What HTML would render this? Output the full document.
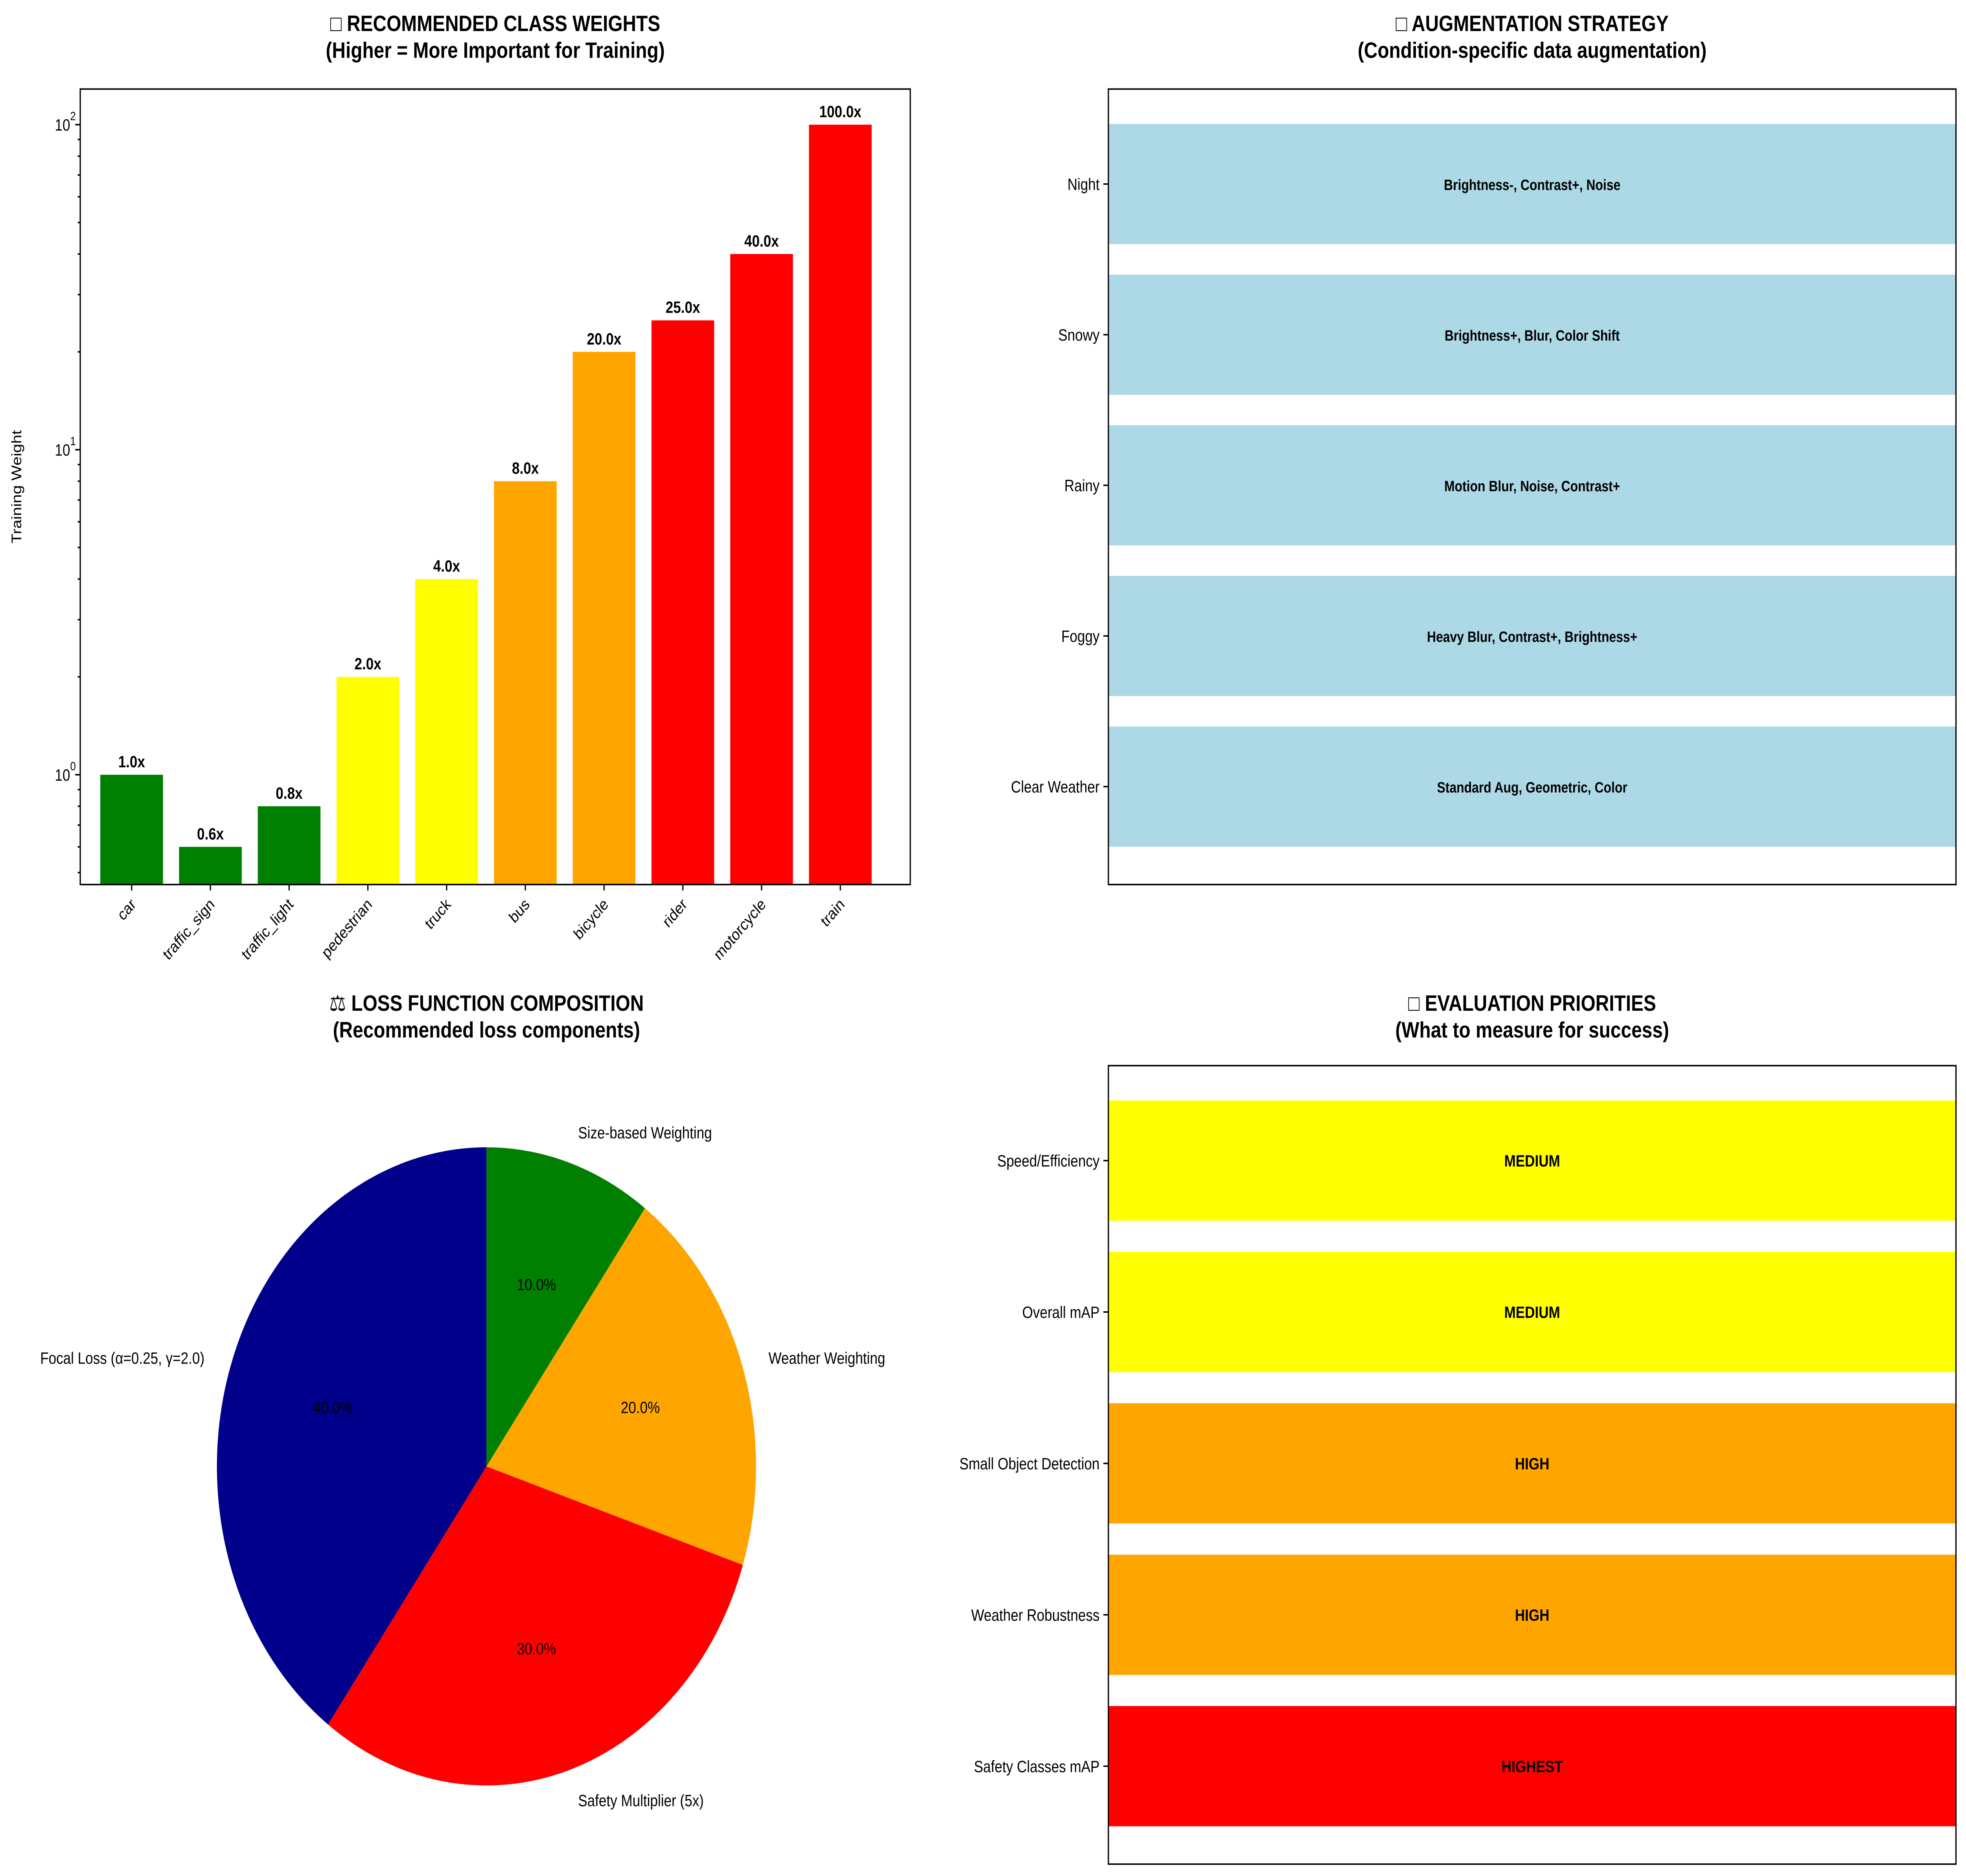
<!DOCTYPE html>
<html><head><meta charset="utf-8"><style>html,body{margin:0;padding:0;background:#fff;overflow:hidden;width:100%;height:100%}svg{display:block;position:fixed;left:0;top:0;width:100vw;height:100vh}text{font-family:"Liberation Sans","DejaVu Sans",sans-serif}</style></head>
<body>
<svg id="s" viewBox="0 0 1568 1264" preserveAspectRatio="none" xmlns="http://www.w3.org/2000/svg"></svg>
<script>
const classes=["car","traffic_sign","traffic_light","pedestrian","truck","bus","bicycle","rider","motorcycle","train"];
const weights=[1.0,0.6,0.8,2.0,4.0,8.0,20.0,25.0,40.0,100.0];
const classColors=["green","green","green","yellow","yellow","orange","orange","red","red","red"];
const augConds=["Clear Weather","Foggy","Rainy","Snowy","Night"];
const augText=["Standard Aug, Geometric, Color","Heavy Blur, Contrast+, Brightness+","Motion Blur, Noise, Contrast+","Brightness+, Blur, Color Shift","Brightness-, Contrast+, Noise"];
const lossLabels=["Focal Loss (α=0.25, γ=2.0)","Safety Multiplier (5x)","Weather Weighting","Size-based Weighting"];
const lossVals=[40,30,20,10];
const lossColors=["darkblue","red","orange","green"];
const evalItems=["Safety Classes mAP","Weather Robustness","Small Object Detection","Overall mAP","Speed/Efficiency"];
const evalLevels=["HIGHEST","HIGH","HIGH","MEDIUM","MEDIUM"];
const levelColors={HIGHEST:"red",HIGH:"orange",MEDIUM:"yellow"};

const S=document.getElementById('s');const NS="http://www.w3.org/2000/svg";
function el(t,a,txt){const e=document.createElementNS(NS,t);for(const k in a)e.setAttribute(k,a[k]);if(txt!==undefined)e.textContent=txt;S.appendChild(e);return e;}
function title(cx,l1,l2,y){
 const t=el('text',{x:cx,y:y,'text-anchor':'middle','font-size':15,'font-weight':'bold'},l1);
 
 const t2=el('text',{x:cx,y:y+18,'text-anchor':'middle','font-size':15,'font-weight':'bold'},l2);
 
}
const L={x0:64,x1:726,y0:60,y1:596};
const yv=v=>522-Math.log10(v)*219;
const xc=i=>105+i*62.8;
title(395,"□ RECOMMENDED CLASS WEIGHTS","(Higher = More Important for Training)",21);
classes.forEach((c,i)=>{
 const r=el('rect',{x:xc(i)-25,y:yv(weights[i]),width:50,height:L.y1-yv(weights[i]),fill:classColors[i]});
 
 const t=el('text',{x:xc(i),y:yv(weights[i])-5,'text-anchor':'middle','font-size':11,'font-weight':'bold'},weights[i].toFixed(1)+'x');
 
 el('line',{x1:xc(i),x2:xc(i),y1:L.y1,y2:L.y1+4,stroke:'#000'});
 const tl=el('text',{x:0,y:0,'text-anchor':'end','font-size':11,transform:`translate(${xc(i)+4},${L.y1+14}) rotate(-45)`},c);
 
});
[0,1,2].forEach(p=>{const y=yv(Math.pow(10,p));el('line',{x1:L.x0-4,x2:L.x0,y1:y,y2:y,stroke:'#000'});
 const t=el('text',{x:L.x0-8,y:y+4,'text-anchor':'end','font-size':11},'10');
 el('text',{x:L.x0-8,y:y-3,'font-size':8},String(p));});
for(let p=-1;p<=2;p++)for(let m=2;m<=9;m++){const v=m*Math.pow(10,p);const y=yv(v);if(y>L.y0&&y<L.y1)el('line',{x1:L.x0-2,x2:L.x0,y1:y,y2:y,stroke:'#000'});}
const yl=el('text',{x:0,y:0,'text-anchor':'middle','font-size':11,transform:'translate(17,328) rotate(-90)'},'Training Weight');

el('rect',{x:L.x0,y:L.y0,width:L.x1-L.x0,height:L.y1-L.y0,fill:'none',stroke:'#000'});

function hpanel(y0,y1,labels,texts,colors,fs,nm){
 const x0=884,x1=1560;const bot=y1-66;const step=(bot-(y0+64))/4;
 labels.forEach((l,i)=>{const c=bot-i*step;
  const r=el('rect',{x:x0,y:c-40.5,width:x1-x0,height:81,fill:colors[i]});
  
  const t=el('text',{x:(x0+x1)/2,y:c+4,'text-anchor':'middle','font-size':fs,'font-weight':'bold'},texts[i]);
  
  el('line',{x1:x0-4,x2:x0,y1:c,y2:c,stroke:'#000'});
  const tl=el('text',{x:x0-7,y:c+4,'text-anchor':'end','font-size':11},l);
  
 });
 el('rect',{x:x0,y:y0,width:x1-x0,height:y1-y0,fill:'none',stroke:'#000'});
}
title(1222,"□ AUGMENTATION STRATEGY","(Condition-specific data augmentation)",21);
hpanel(60,596,augConds,augText,augConds.map(()=> 'lightblue'),10,'augmentation');
title(1222,"□ EVALUATION PRIORITIES","(What to measure for success)",681);
hpanel(718,1256,evalItems,evalLevels,evalLevels.map(l=>levelColors[l]),11,'priority');

title(388,"⚖ LOSS FUNCTION COMPOSITION","(Recommended loss components)",681);
const cx=388,cy=988,R=215;const tot=lossVals.reduce((a,b)=>a+b,0);let a=90;
lossVals.forEach((v,i)=>{const a1=a+v/tot*360;const r0=a*Math.PI/180,r1=a1*Math.PI/180;
 const p=el('path',{d:`M${cx},${cy} L${cx+R*Math.cos(r0)},${cy-R*Math.sin(r0)} A${R},${R} 0 ${(a1-a)>180?1:0} 0 ${cx+R*Math.cos(r1)},${cy-R*Math.sin(r1)} Z`,fill:lossColors[i]});
 
 const m=(a+a1)/2*Math.PI/180;
 const lx=cx+1.1*R*Math.cos(m),ly=cy-1.1*R*Math.sin(m);
 const t=el('text',{x:lx,y:ly+4,'text-anchor':Math.cos(m)<0?'end':'start','font-size':11},lossLabels[i]);
 
 const pt=el('text',{x:cx+0.6*R*Math.cos(m),y:cy-0.6*R*Math.sin(m)+4,'text-anchor':'middle','font-size':11},v.toFixed(1)+'%');
 
 a=a1;});
</script>
</body></html>
